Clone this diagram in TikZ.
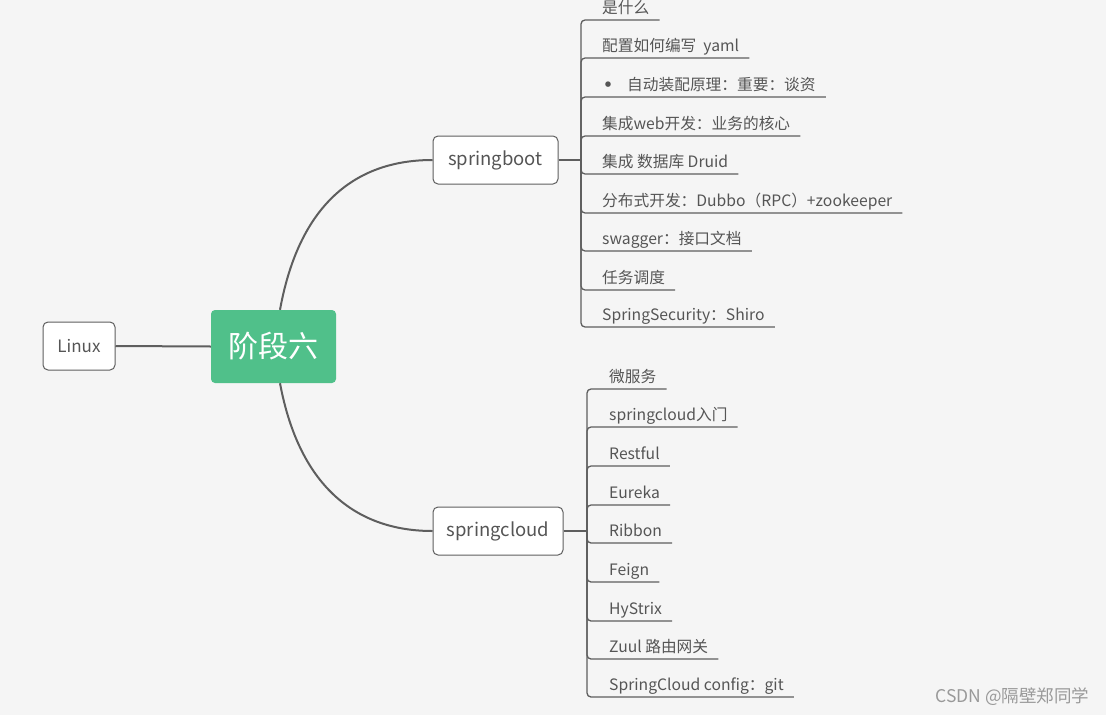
\documentclass[tikz,border=0pt]{standalone}
\usepackage{fontspec}
\setmainfont{Noto Sans CJK SC}
\definecolor{bg}{HTML}{F5F5F5}
\definecolor{mygreen}{HTML}{50C08A}
\definecolor{ln}{HTML}{5E5E5E}
\definecolor{tx}{HTML}{555555}
\begin{document}
\begin{tikzpicture}[x=1pt,y=-1pt,
  box/.style={draw=ln, line width=1pt, rounded corners=5pt, fill=white, text=tx,
    font=\fontsize{18.5}{21}\selectfont, inner sep=0pt, minimum height=48pt},
  root/.style={fill=mygreen, rounded corners=4pt, text=white,
    font=\fontsize{30}{34}\selectfont, inner sep=0pt, minimum width=125pt, minimum height=73pt},
  leaf/.style={anchor=south west, inner sep=0pt, text depth=6pt, text=tx,
    font=\fontsize{15.7}{18}\selectfont},
  branch/.style={draw=ln, line width=2pt},
  twig/.style={draw=ln, line width=1.3pt, rounded corners=4pt},
  mark2/.style={text=black!40, font=\fontsize{17.5}{20}\selectfont, anchor=east}]
\fill[bg] (0,0) rectangle (1106,715);
\useasboundingbox (0,0) rectangle (1106,715);

% main nodes
\node[root] (c) at (273.5,346.5) {阶段六};
\node[box, minimum width=72pt, font=\fontsize{17}{20}\selectfont] (lin) at (79,346) {Linux};
\node[box, minimum width=125pt] (sb) at (495.5,160) {springboot};
\node[box, minimum width=130pt] (sc) at (498,531) {springcloud};

% main connectors
\draw[branch] (lin.east) -- (c.west);
\draw[branch] ([xshift=6.5pt]c.north) .. controls +(20,-110) and +(-73,0) .. (sb.west);
\draw[branch] ([xshift=6.5pt]c.south) .. controls +(20,107) and +(-73,0) .. (sc.west);

% springboot leaves
\coordinate (sbj) at (581,160);
\draw[twig] (sb.east) -- (sbj);
\node[leaf] (b1) at (602,20) {是什么};
\node[leaf] (b2) at (602,58) {配置如何编写\ \ yaml};
\node[leaf] (b3) at (608,97) {\makebox[0pt]{\raisebox{-3.5pt}{\fontsize{26}{18}\selectfont •}}\hspace{19pt}自动装配原理：重要：谈资};
\node[leaf] (b4) at (602,136) {集成web开发：业务的核心};
\node[leaf] (b5) at (602,174) {集成 数据库 Druid};
\node[leaf] (b6) at (602,213) {分布式开发：Dubbo（RPC）+zookeeper};
\node[leaf] (b7) at (602,251) {swagger：接口文档};
\node[leaf] (b8) at (602,290) {任务调度};
\node[leaf] (b9) at (602,327) {SpringSecurity：Shiro};
\foreach \n in {b1,b2,b3,b4,b5,b6,b7,b8,b9}
  \draw[twig] (sbj) |- ([xshift=10pt]\n.south east);

% springcloud leaves
\coordinate (scj) at (587,531);
\draw[twig] (sc.east) -- (scj);
\node[leaf] (s1) at (609,389) {微服务};
\node[leaf] (s2) at (609,427) {springcloud入门};
\node[leaf] (s3) at (609,466) {Restful};
\node[leaf] (s4) at (609,505) {Eureka};
\node[leaf] (s5) at (609,543) {Ribbon};
\node[leaf] (s6) at (609,582) {Feign};
\node[leaf] (s7) at (609,621) {HyStrix};
\node[leaf] (s8) at (609,659) {Zuul 路由网关};
\node[leaf] (s9) at (609,697) {SpringCloud config：git};
\foreach \n in {s1,s2,s3,s4,s5,s6,s7,s8,s9}
  \draw[twig] (scj) |- ([xshift=10pt]\n.south east);

% watermark
\node[mark2] (wm) at (1093,697) {CSDN @隔壁郑同学};
\end{tikzpicture}
\end{document}
